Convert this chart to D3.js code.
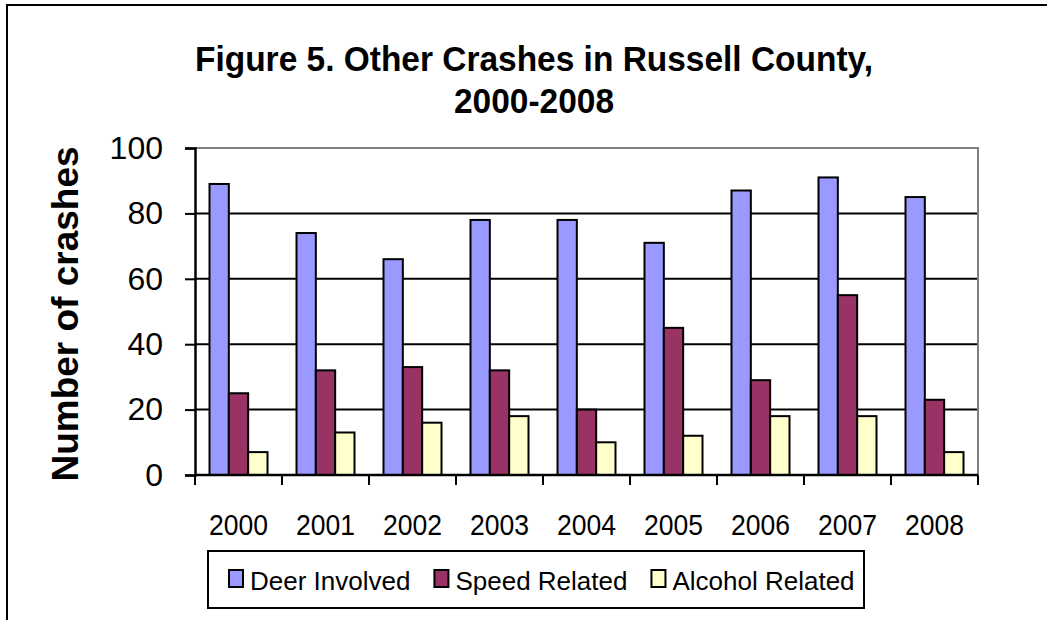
<!DOCTYPE html>
<html>
<head>
<meta charset="utf-8">
<script src="https://cdn.jsdelivr.net/npm/d3@7"></script>
<style>
  body { margin: 0; background: #fff; }
  svg { display: block; font-family: "Liberation Sans", Arial, sans-serif; }
</style>
</head>
<body>
<div id="chart-container"></div>
<script>
// Data.
const years = ["2000", "2001", "2002", "2003", "2004", "2005", "2006", "2007", "2008"];
const seriesNames = ["Deer Involved", "Speed Related", "Alcohol Related"];
const deerInvolved = [89, 74, 66, 78, 78, 71, 87, 91, 85];
const speedRelated = [25, 32, 33, 32, 20, 45, 29, 55, 23];
const alcoholRelated = [7, 13, 16, 18, 10, 12, 18, 18, 7];
const yTicks = [0, 20, 40, 60, 80, 100];
const seriesColors = ["#9999FF", "#993366", "#FFFFCC"];

const width = 1047;
const height = 620;

// Plot area box.
const plot = { left: 195, right: 978, top: 148, bottom: 475 };

const svg = d3.select("#chart-container").append("svg")
    .attr("width", width)
    .attr("height", height);

// Outer chart frame (runs off the right and bottom of the picture).
svg.append("rect")
    .attr("x", 7).attr("y", 5)
    .attr("width", 1100).attr("height", 700)
    .attr("fill", "none")
    .attr("stroke", "#000")
    .attr("stroke-width", 2);

// Title.
const title = svg.append("text")
    .attr("text-anchor", "middle")
    .style("font-weight", "bold")
    .style("font-size", "35px");
title.append("tspan").attr("x", 534).attr("y", 71)
    .attr("textLength", 678).attr("lengthAdjust", "spacingAndGlyphs")
    .text("Figure 5. Other Crashes in Russell County,");
title.append("tspan").attr("x", 534).attr("y", 113)
    .attr("textLength", 160).attr("lengthAdjust", "spacingAndGlyphs")
    .text("2000-2008");

// Scales.
const x0 = d3.scaleBand()
    .domain(years)
    .range([plot.left, plot.right])
    .paddingInner(1 / 3)
    .paddingOuter(1 / 6);

const x1 = d3.scaleBand()
    .domain(seriesNames)
    .range([0, x0.bandwidth()]);

const y = d3.scaleLinear()
    .domain([0, 100])
    .range([plot.bottom, plot.top]);

const color = d3.scaleOrdinal()
    .domain(seriesNames)
    .range(seriesColors);

// Gridlines.
svg.append("g")
    .selectAll("line")
    .data(yTicks.filter(d => d > 0 && d < 100))
    .join("line")
    .attr("x1", plot.left).attr("x2", plot.right)
    .attr("y1", d => y(d)).attr("y2", d => y(d))
    .attr("stroke", "#000")
    .attr("stroke-width", 2);

// Plot border top and right (grey).
svg.append("path")
    .attr("d", `M${plot.left},${y(100)}H${plot.right}V${plot.bottom}`)
    .attr("fill", "none")
    .attr("stroke", "#808080")
    .attr("stroke-width", 2);

// Bars.
const table = years.map((yr, i) => ({
    year: yr,
    values: [deerInvolved[i], speedRelated[i], alcoholRelated[i]]
}));

svg.append("g")
    .selectAll("g")
    .data(table)
    .join("g")
    .attr("transform", d => `translate(${x0(d.year)},0)`)
    .selectAll("rect")
    .data(d => d.values.map((v, j) => ({ key: seriesNames[j], value: v })))
    .join("rect")
    .attr("x", d => x1(d.key))
    .attr("y", d => y(d.value))
    .attr("width", x1.bandwidth())
    .attr("height", d => y(0) - y(d.value))
    .attr("fill", d => color(d.key))
    .attr("stroke", "#000")
    .attr("stroke-width", 2);

// Y axis.
const yAxis = svg.append("g")
    .attr("transform", `translate(${plot.left},0)`)
    .call(d3.axisLeft(y).tickValues(yTicks).tickSize(10).tickPadding(22));
yAxis.select(".domain").attr("stroke", "#000").attr("stroke-width", 2.5);
yAxis.selectAll(".tick line").attr("stroke", "#000").attr("stroke-width", 2);
yAxis.selectAll(".tick text")
    .style("font-size", "32px")
    .style("font-family", "'Liberation Sans', Arial, sans-serif")
    .attr("fill", "#000");

// X axis: ticks between categories, labels under category centres.
const step = x0.step();
const boundaries = d3.range(years.length + 1).map(i => plot.left + i * step);
svg.append("line")
    .attr("x1", plot.left).attr("x2", plot.right)
    .attr("y1", plot.bottom).attr("y2", plot.bottom)
    .attr("stroke", "#000").attr("stroke-width", 2.5);
svg.append("g")
    .selectAll("line")
    .data(boundaries)
    .join("line")
    .attr("x1", d => d).attr("x2", d => d)
    .attr("y1", plot.bottom).attr("y2", plot.bottom + 10)
    .attr("stroke", "#000").attr("stroke-width", 2);
svg.append("g")
    .selectAll("text")
    .data(years)
    .join("text")
    .attr("x", d => x0(d) + x0.bandwidth() / 2)
    .attr("y", 535)
    .attr("text-anchor", "middle")
    .attr("textLength", 59)
    .attr("lengthAdjust", "spacingAndGlyphs")
    .style("font-size", "29px")
    .text(d => d);

// Y axis title.
svg.append("text")
    .attr("transform", "translate(78,314) rotate(-90)")
    .attr("text-anchor", "middle")
    .style("font-weight", "bold")
    .style("font-size", "37px")
    .text("Number of crashes");

// Legend.
const legend = svg.append("g");
legend.append("rect")
    .attr("x", 208).attr("y", 551)
    .attr("width", 656).attr("height", 57)
    .attr("fill", "#fff")
    .attr("stroke", "#000")
    .attr("stroke-width", 2);

let cursor = 229;
seriesNames.forEach(name => {
    legend.append("rect")
        .attr("x", cursor).attr("y", 570)
        .attr("width", 14).attr("height", 17)
        .attr("fill", color(name))
        .attr("stroke", "#000")
        .attr("stroke-width", 2);
    const t = legend.append("text")
        .attr("x", cursor + 21)
        .attr("y", 590)
        .style("font-size", "26px")
        .text(name);
    cursor += 21 + t.node().getComputedTextLength() + 24;
});
</script>
</body>
</html>
